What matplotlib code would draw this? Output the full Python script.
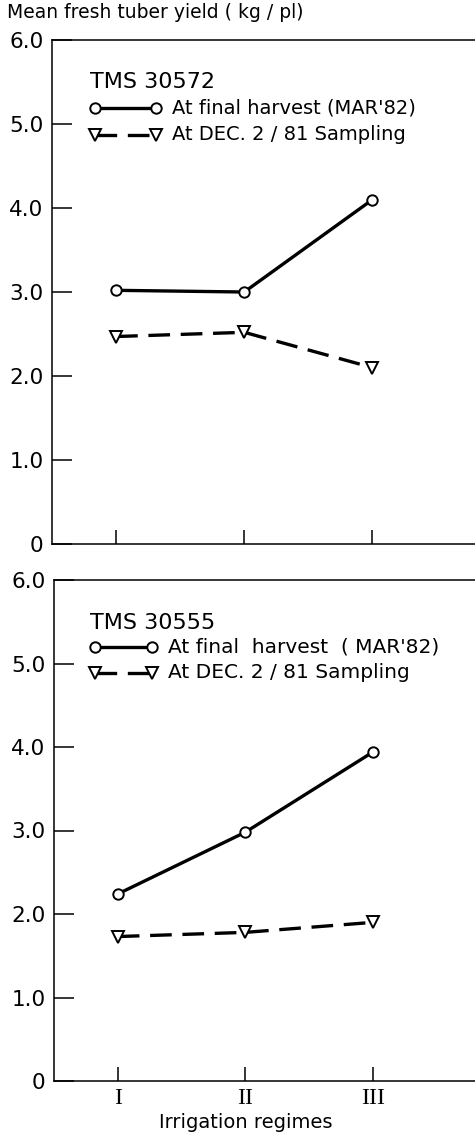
import matplotlib
matplotlib.use("Agg")
import matplotlib.pyplot as plt
from matplotlib.lines import Line2D
import matplotlib.transforms as mtransforms

plt.rcParams['font.family'] = ['DejaVu Sans']

# Irrigation regimes and yields (kg/plant)
regimes = ["I", "II", "III"]
x_pos = [1, 2, 3]

tms30572_final = [3.02, 3.00, 4.10]
tms30572_dec = [2.47, 2.52, 2.10]

tms30555_final = [2.24, 2.98, 3.94]
tms30555_dec = [1.73, 1.78, 1.90]

y_ticks = [0, 1, 2, 3, 4, 5, 6]
y_tick_labels = ["0", "1.0", "2.0", "3.0", "4.0", "5.0", "6.0"]

lbl_final = "At final harvest (MAR'82)"
lbl_final_b = "At final  harvest  ( MAR'82)"
lbl_dec = "At DEC. 2 / 81 Sampling"

W, H = 475, 1134
fig = plt.figure(figsize=(W / 100, H / 100), dpi=100)


def px_axes(left, top, bottom, right=W):
    return fig.add_axes([left / W, 1 - bottom / H, (right - left) / W, (bottom - top) / H])


def fx(x):
    return x / W


def fy(y):
    return 1 - y / H


ax_top = px_axes(52, 40, 544)
ax_bot = px_axes(54, 580, 1081)

solid_kw = dict(color="black", lw=2.4, marker="o", ms=7.5, mfc="white",
                mec="black", mew=1.4)
dash_kw = dict(color="black", lw=2.4, ls=(0, (6.5, 3.2)), marker="v", ms=9,
               mfc="white", mec="black", mew=1.4)


def key(title, final_label, fs, y_title, y1, y2, x_end, x_text):
    fig.text(fx(90), fy(y_title), title, fontsize=16, ha="left", va="center")
    for y, kw, label in ((y1, solid_kw, final_label), (y2, dash_kw, lbl_dec)):
        fig.add_artist(Line2D([fx(95), fx(x_end)], [fy(y), fy(y)],
                              transform=fig.transFigure, **kw))
        fig.text(fx(x_text), fy(y), label, fontsize=fs, ha="left", va="center")


def style_panel(ax, final, dec, show_xlabels):
    ax.plot(x_pos, final, zorder=3, **solid_kw)
    ax.plot(x_pos, dec, zorder=3, **dash_kw)
    ax.set_xlim(0.5, 3.8)
    ax.set_ylim(0, 6)
    ax.set_yticks(y_ticks)
    ax.set_yticklabels(y_tick_labels, fontsize=15.5)
    ax.set_xticks(x_pos)
    if show_xlabels:
        ax.set_xticklabels(regimes, fontsize=17, family="Liberation Serif")
    else:
        ax.set_xticklabels([])
    ax.tick_params(axis="y", direction="in", length=14.5, width=1.1, pad=6)
    ax.tick_params(axis="x", direction="in", length=10, width=1.1, pad=5)
    ax.spines["right"].set_visible(False)
    for side in ("left", "top", "bottom"):
        ax.spines[side].set_linewidth(1.1)


style_panel(ax_top, tms30572_final, tms30572_dec, False)
style_panel(ax_bot, tms30555_final, tms30555_dec, True)

key("TMS 30572", lbl_final, 14, 82, 108, 135, 156, 172)
key("TMS 30555", lbl_final_b, 14.5, 623, 647, 673, 152, 168)

fig.text(fx(7), fy(13), "Mean fresh tuber yield ( kg / pl)", fontsize=13.5,
         ha="left", va="center")

trans = mtransforms.blended_transform_factory(ax_bot.transData, fig.transFigure)
ax_bot.text(2, fy(1122), "Irrigation regimes", transform=trans,
            fontsize=14, ha="center", va="center")

fig.savefig("out.png", dpi=100)
